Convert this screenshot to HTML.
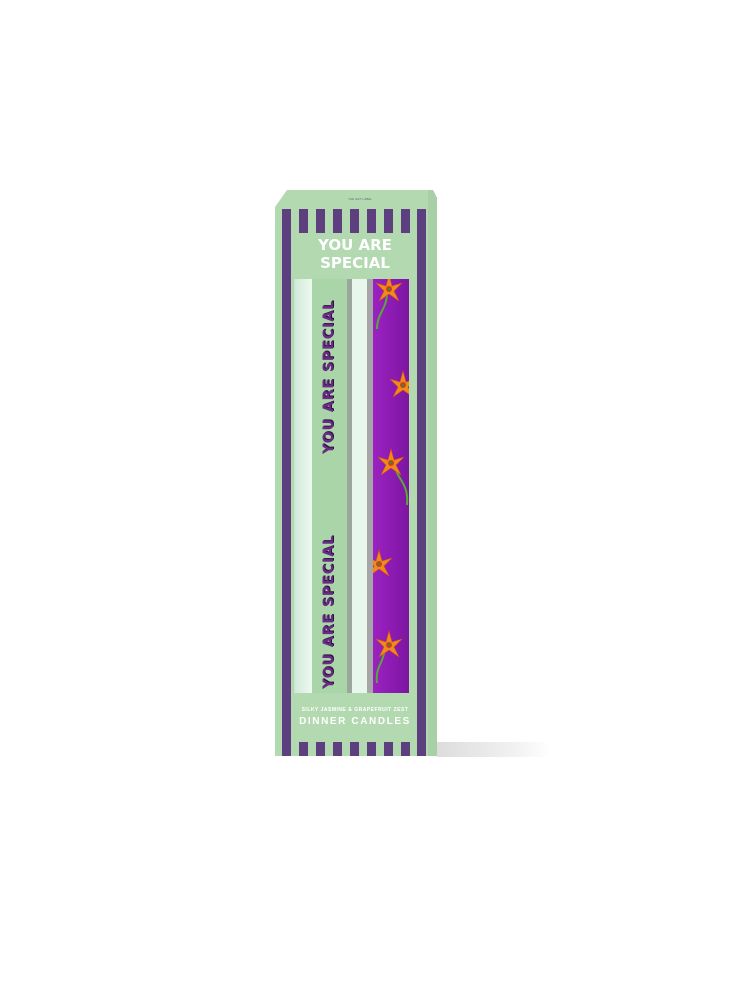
<!DOCTYPE html>
<html><head><style>
html,body{margin:0;padding:0;background:#fff;width:730px;height:1000px;overflow:hidden;position:relative;font-family:"Liberation Sans",sans-serif}
.a{position:absolute}
.st{position:absolute;background:#5d3f80;width:9px}
.vt{position:absolute;color:#6a2a85;font-weight:900;font-size:14px;letter-spacing:1px;white-space:nowrap;transform:rotate(-90deg);transform-origin:center;text-shadow:1px 1px 0 #2e1040;font-family:"DejaVu Sans","Liberation Sans",sans-serif}
</style></head><body>
<div class="a" style="left:436px;top:742px;width:114px;height:15px;background:linear-gradient(90deg,#dcdcdc,#f2f2f2 70%,#fff);border-radius:2px 8px 2px 2px"></div>
<svg class="a" style="left:0;top:0" width="730" height="1000">
<polygon points="275,207 287,190 433,190 437,198 437,756 275,756" fill="#b3d9b0"/>
<polygon points="428,190 433,190 437,198 437,756 428,756" fill="#a9cfa6"/>
</svg>
<div class="st" style="left:282px;top:209px;height:547px"></div>
<div class="st" style="left:417px;top:209px;height:547px"></div>
<div class="st" style="left:299px;top:209px;height:24px"></div>
<div class="st" style="left:316px;top:209px;height:24px"></div>
<div class="st" style="left:333px;top:209px;height:24px"></div>
<div class="st" style="left:350px;top:209px;height:24px"></div>
<div class="st" style="left:367px;top:209px;height:24px"></div>
<div class="st" style="left:384px;top:209px;height:24px"></div>
<div class="st" style="left:401px;top:209px;height:24px"></div>
<div class="st" style="left:299px;top:742px;height:14px"></div>
<div class="st" style="left:316px;top:742px;height:14px"></div>
<div class="st" style="left:333px;top:742px;height:14px"></div>
<div class="st" style="left:350px;top:742px;height:14px"></div>
<div class="st" style="left:367px;top:742px;height:14px"></div>
<div class="st" style="left:384px;top:742px;height:14px"></div>
<div class="st" style="left:401px;top:742px;height:14px"></div>
<div class="a" style="left:340px;top:197px;width:40px;text-align:center;font-size:3px;color:#6a6a6a">THE GIFT LABEL</div>
<div class="a" style="left:300px;top:236px;width:110px;text-align:center;color:#fff;font-weight:900;font-size:15px;line-height:18px;font-family:'DejaVu Sans',sans-serif">YOU ARE<br>SPECIAL</div>
<div class="a" style="left:294px;top:279px;width:115px;height:414px;background:#c9e3cc"></div>
<div class="a" style="left:295px;top:279px;width:17px;height:414px;background:linear-gradient(90deg,#d2eadb,#eef8ef)"></div>
<div class="a" style="left:312px;top:279px;width:35px;height:414px;background:#a9d5a8"></div>
<div class="a" style="left:347px;top:279px;width:5px;height:414px;background:#9aa89b"></div>
<div class="a" style="left:352px;top:279px;width:15px;height:414px;background:#e8f7ec"></div>
<div class="a" style="left:367px;top:279px;width:6px;height:414px;background:#a6a6a8"></div>
<div class="a" style="left:373px;top:279px;width:36px;height:414px;background:linear-gradient(90deg,#9a22c0,#8a1ab0 60%,#7c169f)"></div>
<div class="vt" style="left:249px;top:369px;width:160px;text-align:center">YOU ARE SPECIAL</div>
<div class="vt" style="left:249px;top:604px;width:160px;text-align:center">YOU ARE SPECIAL</div>
<svg class="a" style="left:373px;top:279px" width="36" height="414">
<defs><g id="f"><polygon points="0,-14 3,-3 13,-6 5,2 10,12 0,5 -10,12 -5,2 -13,-6 -3,-3" fill="#f08a1c" stroke="#d0501a" stroke-width="0.6"/><circle r="3" fill="#d63a20"/><circle r="1.5" fill="#3a8a2a"/></g></defs>
<path d="M14,14 C14,30 4,34 4,50" stroke="#58a83a" stroke-width="2" fill="none"/>
<use href="#f" x="16" y="10"/>
<use href="#f" x="30" y="106"/>
<path d="M22,188 C24,200 36,204 34,226" stroke="#58a83a" stroke-width="2" fill="none"/>
<use href="#f" x="18" y="184"/>
<use href="#f" x="6" y="285"/>
<path d="M12,370 C10,385 2,388 4,404" stroke="#58a83a" stroke-width="2" fill="none"/>
<use href="#f" x="16" y="366"/>
</svg>
<div class="a" style="left:284px;top:707px;width:142px;text-align:center;color:#fff;font-size:5px;font-weight:bold;letter-spacing:0.5px">SILKY JASMINE &amp; GRAPEFRUIT ZEST</div>
<div class="a" style="left:284px;top:716px;width:142px;text-align:center;color:#fff;font-size:10px;font-weight:bold;letter-spacing:1.6px">DINNER CANDLES</div>
</body></html>
